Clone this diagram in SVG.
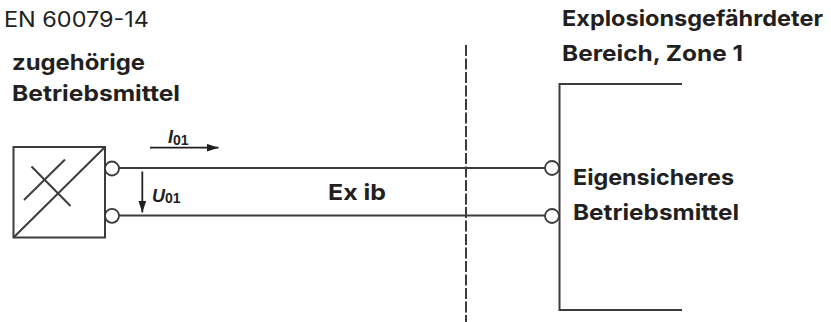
<svg xmlns="http://www.w3.org/2000/svg" width="831" height="322" viewBox="0 0 831 322">
<style>
.ln{fill:none;stroke:#3c3c3c;stroke-width:2}
.term{fill:#fff;stroke:#3c3c3c;stroke-width:1.8}
.t{font-family:Inter,"Open Sans","Liberation Sans",sans-serif;fill:#231f20}
.b{font-weight:bold;font-size:22px}
.r{font-size:21px;font-weight:normal}
.sym{font-family:"Liberation Sans",Arial,sans-serif;font-weight:bold;fill:#231f20}
</style>
<defs>
<marker id="ah" viewBox="0 0 12 8" refX="12" refY="4" markerWidth="12" markerHeight="8" markerUnits="userSpaceOnUse" orient="auto">
<path d="M0,0 L12,4 L0,8 Z" fill="#231f20"/>
</marker>
</defs>
<rect width="831" height="322" fill="#fff"/>
<text class="t r" x="4" y="27" textLength="145" lengthAdjust="spacingAndGlyphs">EN 60079-14</text>
<g id="zugehoerige">
<text class="t b" x="12" y="70" textLength="133" lengthAdjust="spacingAndGlyphs">zugehörige</text>
<text class="t b" x="12" y="101" textLength="168" lengthAdjust="spacingAndGlyphs">Betriebsmittel</text>
<rect class="ln" x="13.5" y="147" width="91.5" height="90.5"/>
<line class="ln" x1="13.5" y1="237.5" x2="105" y2="147"/>
<line class="ln" x1="24" y1="200" x2="65" y2="159.5" stroke-width="1.8"/>
<line class="ln" x1="31.5" y1="166.5" x2="70.5" y2="206" stroke-width="1.8"/>
</g>
<g id="zone">
<text class="t b" x="562" y="26" textLength="261" lengthAdjust="spacingAndGlyphs">Explosionsgefährdeter</text>
<text class="t b" x="562" y="61" textLength="181" lengthAdjust="spacingAndGlyphs">Bereich, Zone 1</text>
</g>
<g id="eigensicher">
<polyline class="ln" points="682,84 559.5,84 559.5,310 682,310"/>
<text class="t b" x="573" y="185" textLength="161" lengthAdjust="spacingAndGlyphs">Eigensicheres</text>
<text class="t b" x="573" y="220" textLength="166" lengthAdjust="spacingAndGlyphs">Betriebsmittel</text>
</g>
<g id="connectors">
<line class="ln" x1="119" y1="168" x2="545" y2="168"/>
<line class="ln" x1="119" y1="215.5" x2="545" y2="215.5"/>
<circle class="term" cx="112" cy="168.5" r="7"/>
<circle class="term" cx="112" cy="215.8" r="7"/>
<circle class="term" cx="552" cy="168" r="7"/>
<circle class="term" cx="552" cy="216" r="7"/>
<line x1="466" y1="45" x2="466" y2="322" stroke="#3c3c3c" stroke-width="2" stroke-dasharray="11 2.5"/>
<line x1="150" y1="147.7" x2="218.5" y2="147.7" stroke="#231f20" stroke-width="1.8" marker-end="url(#ah)"/>
<line x1="142.3" y1="171.5" x2="142.3" y2="212.5" stroke="#231f20" stroke-width="1.8" marker-end="url(#ah)"/>
</g>
<g id="labels">
<text class="sym" x="168" y="143" font-size="18" font-style="italic">I<tspan font-size="14" font-style="normal" dy="2">01</tspan></text>
<text class="sym" x="152" y="201.5" font-size="18" font-style="italic">U<tspan font-size="14" font-style="normal" dy="1">01</tspan></text>
<text class="t b" x="328" y="199.5" textLength="58" lengthAdjust="spacingAndGlyphs">Ex ib</text>
</g>
</svg>
